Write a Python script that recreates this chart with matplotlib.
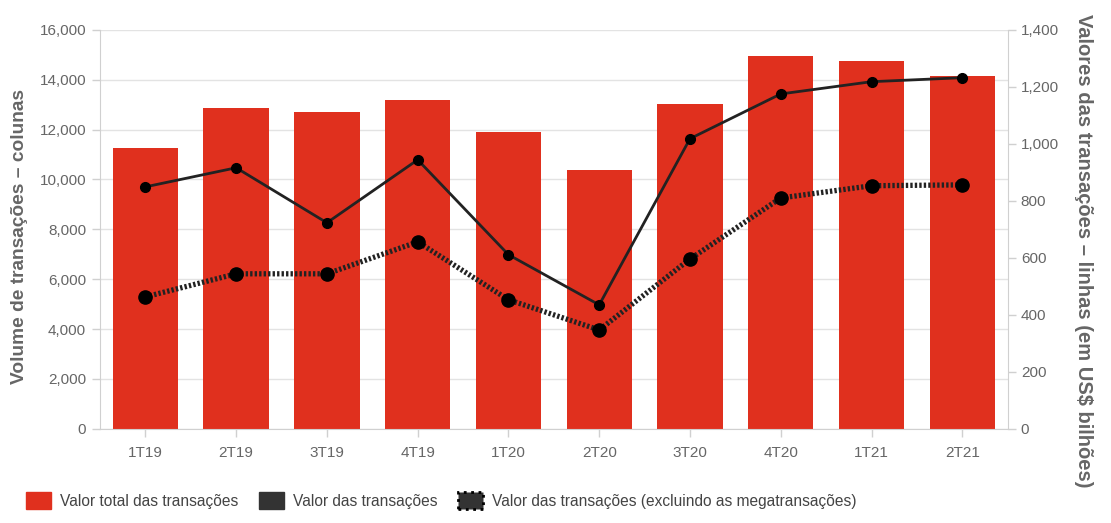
import matplotlib
matplotlib.use("Agg")
import matplotlib.pyplot as plt
from matplotlib.patches import Patch
from matplotlib.ticker import FuncFormatter

plt.rcParams['font.family'] = ['Liberation Sans', 'DejaVu Sans']

quarters = ["1T19", "2T19", "3T19", "4T19", "1T20", "2T20", "3T20", "4T20", "1T21", "2T21"]
volume = [11250, 12850, 12720, 13170, 11920, 10360, 13030, 14930, 14730, 14150]
valor = [849, 916, 723, 944, 611, 435, 1018, 1175, 1218, 1232]
valor_excl = [463, 544, 544, 656, 453, 347, 596, 810, 853, 856]

red = "#e0301e"
grey = "#666666"
x = list(range(len(quarters)))

fig = plt.figure(figsize=(11.11, 5.23), dpi=100)
ax = fig.add_axes([0.09, 0.18, 0.817, 0.763])
ax2 = ax.twinx()

ax.bar(x, volume, width=0.72, color=red, zorder=2)
ax.set_ylim(0, 16000)
ax.set_xlim(-0.5, 9.5)
ax.set_yticks(range(0, 16001, 2000))
ax.yaxis.set_major_formatter(FuncFormatter(lambda v, p: f"{int(v):,}"))
ax.grid(axis="y", color="#e3e3e3", linewidth=1, zorder=0)
ax.set_axisbelow(True)
ax.set_xticks(x)
ax.set_xticklabels(quarters)

ax2.plot(x, valor, color="#222222", linewidth=2, marker="o", markersize=7,
         markerfacecolor="black", markeredgecolor="black", zorder=4)
ax2.plot(x, valor_excl, color="#222222", linewidth=3.8, linestyle=(0, (0.45, 0.4)),
         marker="o", markersize=9.5, markerfacecolor="black", markeredgecolor="black", zorder=4)
ax2.set_ylim(0, 1400)
ax2.set_yticks(range(0, 1401, 200))
ax2.yaxis.set_major_formatter(FuncFormatter(lambda v, p: f"{int(v):,}"))

for a in (ax, ax2):
    for s in a.spines.values():
        s.set_visible(False)
    a.tick_params(colors=grey, labelsize=11, length=6, width=1)
    a.tick_params(axis="both", color="#d0d0d0")
ax.spines["left"].set_visible(True)
ax.spines["left"].set_color("#d0d0d0")
ax.spines["bottom"].set_visible(True)
ax.spines["bottom"].set_color("#d0d0d0")
ax2.spines["right"].set_visible(True)
ax2.spines["right"].set_color("#d0d0d0")
ax.tick_params(axis="y", pad=4)
ax.tick_params(axis="x", pad=6)

# axis titles placed in figure coords
fig.text(0.018, 0.548, "Volume de transações – colunas", fontsize=13.8,
         fontweight="bold", color=grey, rotation=90, ha="center", va="center")
fig.text(0.975, 0.52, "Valores das transações – linhas (em US$ bilhões)",
         fontsize=14.5, fontweight="bold", color=grey, rotation=270,
         ha="center", va="center")

handles = [
    Patch(facecolor=red, edgecolor=red),
    Patch(facecolor="#333333", edgecolor="#333333"),
    Patch(facecolor="#333333", edgecolor="black", linestyle=":", linewidth=2),
]
labels = ["Valor total das transações", "Valor das transações",
          "Valor das transações (excluindo as megatransações)"]
fig.legend(handles, labels, loc="lower left", bbox_to_anchor=(0.011, 0.0),
           ncol=3, frameon=False, fontsize=11.2, labelcolor="#444444",
           handlelength=1.6, handleheight=1.3, handletextpad=0.6, columnspacing=1.3)

fig.savefig("out.png", dpi=100)
